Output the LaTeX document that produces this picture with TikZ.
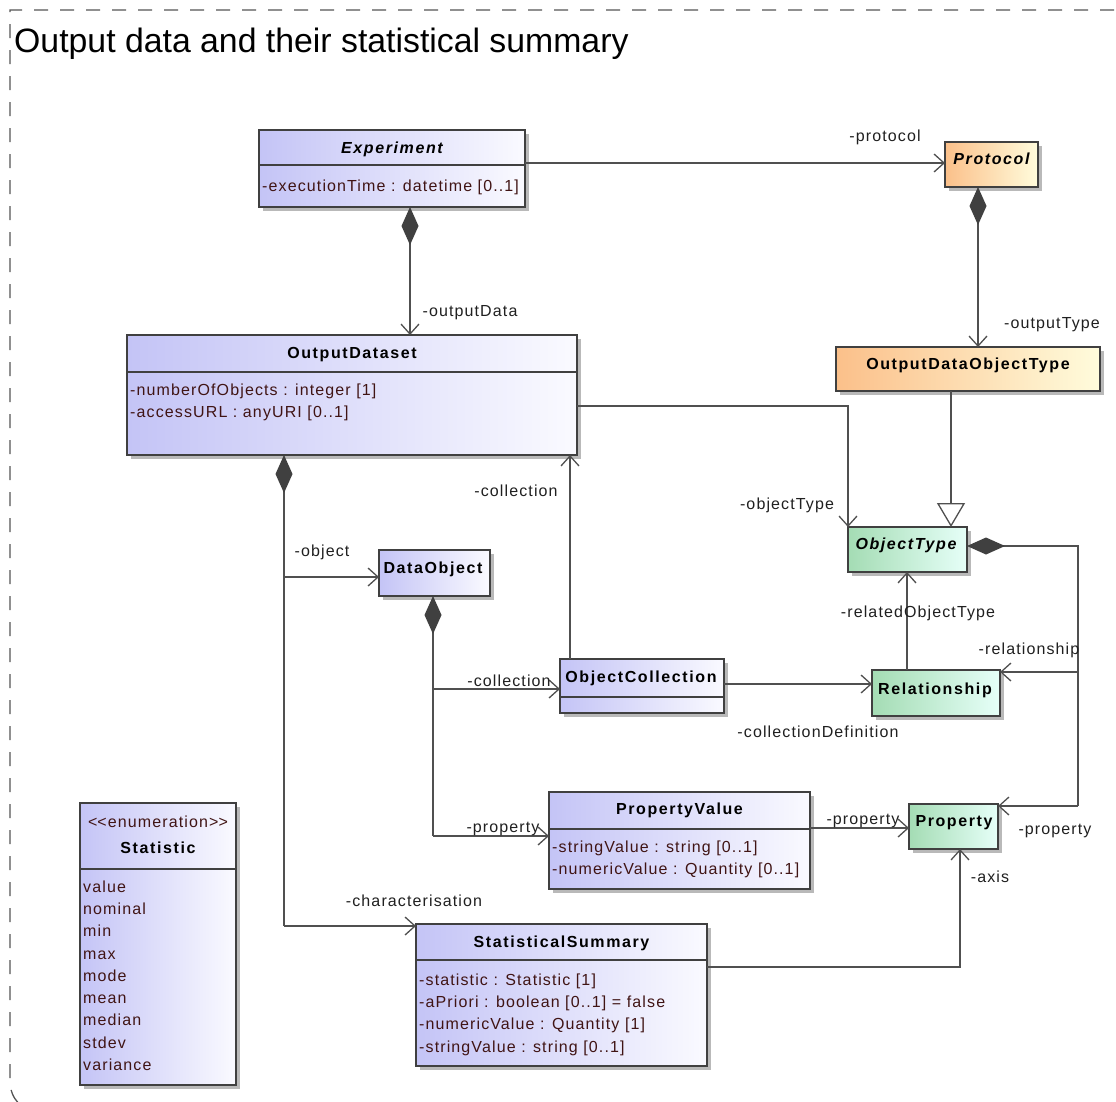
\documentclass[tikz,border=0pt]{standalone}
\usepackage{fontspec}
\setmainfont{Liberation Sans}
\newfontfamily\attrfamily[LetterSpace=7]{Liberation Sans}
\newfontfamily\clsfamily[LetterSpace=10]{Liberation Sans}
\newfontfamily\titlefamily{Liberation Sans}
\usetikzlibrary{arrows.meta,shadows}
\definecolor{bL}{HTML}{C4C4F6}
\definecolor{bR}{HTML}{FAFAFF}
\definecolor{oL}{HTML}{FBC08A}
\definecolor{oR}{HTML}{FFFCDC}
\definecolor{gL}{HTML}{A4DCB4}
\definecolor{gR}{HTML}{E6FFF8}
\definecolor{boxline}{HTML}{404040}
\definecolor{conn}{HTML}{505050}
\definecolor{diamc}{HTML}{404040}
\definecolor{attrc}{HTML}{401414}
\definecolor{lblc}{HTML}{202020}
\definecolor{shadowc}{HTML}{A8A8A8}
\definecolor{framec}{HTML}{555555}
\newcommand\myattrfont{\attrfamily\fontsize{16}{19}\selectfont}
\newcommand\myclsfont{\clsfamily\bfseries\fontsize{16}{19}\selectfont}
\begin{document}
\begin{tikzpicture}[x=1pt,y=-1pt,
  box/.style={draw=boxline, line width=1.2pt, inner sep=0pt, outer sep=0pt,
    drop shadow={shadow xshift=4pt, shadow yshift=-4pt, fill=shadowc, opacity=0.8}},
  bluebox/.style={box, left color=bL, right color=bR},
  orangebox/.style={box, left color=oL, right color=oR},
  greenbox/.style={box, left color=gL, right color=gR},
  divline/.style={draw=boxline, line width=1.2pt},
  cname/.style={font=\myclsfont, text=black, inner sep=0pt, anchor=base},
  attr/.style={font=\myattrfont, text=attrc, inner sep=0pt, anchor=base west},
  lbl/.style={font=\myattrfont, text=lblc, inner sep=0pt, anchor=base},
  assoc/.style={draw=conn, line width=1.3pt, -{Straight Barb[length=10pt,width=18pt]}},
  plainline/.style={draw=conn, line width=1.3pt},
  compnoend/.style={draw=conn, line width=1.3pt,
    {Diamond[length=38pt,width=17pt,fill=diamc,color=diamc]}-},
  comp/.style={draw=conn, line width=1.3pt,
    {Diamond[length=38pt,width=17pt,fill=diamc,color=diamc]}-{Straight Barb[length=10pt,width=18pt]}},
  gen/.style={draw=conn, line width=1.3pt, -{Triangle[length=24pt,width=28pt,fill=white]}},
  frame/.style={draw=framec, line width=1.3pt, dash pattern=on 14pt off 12pt}
]
\useasboundingbox (0,0) rectangle (1116,1101);
\fill[white] (0,0) rectangle (1116,1101);
\begin{scope}
  \clip (0,0) rectangle (1116,1101);
  \draw[frame] (1140,10) -- (10,10) -- (10,1080) .. controls (10,1095) and (16,1103) .. (28,1110);
\end{scope}
\node[font=\titlefamily\fontsize{33.8}{40}\selectfont, inner sep=0pt, anchor=base west] (title) at (14,52) {Output data and their statistical summary};

% ---- boxes ----
\node[bluebox, minimum width=266pt, minimum height=77pt] (exp) at (392,168.5) {};
\draw[divline] (exp.west |- 0,165) -- (exp.east |- 0,165);
\node[cname] (expn) at (392,153) {\itshape Experiment};
\node[attr] (expa) at (262,191) {-executionTime : datetime [0..1]};

\node[orangebox, minimum width=93pt, minimum height=45pt] (prot) at (991.5,164.5) {};
\node[cname] (protn) at (991.5,164) {\itshape Protocol};

\node[bluebox, minimum width=450pt, minimum height=120pt] (ods) at (352,395) {};
\draw[divline] (ods.west |- 0,372) -- (ods.east |- 0,372);
\node[cname] (odsn) at (352,358) {OutputDataset};
\node[attr] (odsa1) at (130,395) {-numberOfObjects : integer [1]};
\node[attr] (odsa2) at (130,417) {-accessURL : anyURI [0..1]};

\node[orangebox, minimum width=264pt, minimum height=44pt] (odot) at (968,369) {};
\node[cname] (odotn) at (968,369) {OutputDataObjectType};

\node[greenbox, minimum width=119pt, minimum height=45pt] (ot) at (907.5,549.5) {};
\node[cname] (otn) at (906,549) {\itshape ObjectType};

\node[bluebox, minimum width=111pt, minimum height=46pt] (dobj) at (434.5,573) {};
\node[cname] (dobjn) at (433,573) {DataObject};

\node[bluebox, minimum width=164pt, minimum height=54pt] (oc) at (642,686) {};
\draw[divline] (oc.west |- 0,697) -- (oc.east |- 0,697);
\node[cname] (ocn) at (641,682) {ObjectCollection};

\node[greenbox, minimum width=128pt, minimum height=46pt] (rel) at (936,693) {};
\node[cname] (reln) at (935,694) {Relationship};

\node[bluebox, minimum width=261pt, minimum height=97pt] (pv) at (679.5,840.5) {};
\draw[divline] (pv.west |- 0,829) -- (pv.east |- 0,829);
\node[cname] (pvn) at (679.5,814) {PropertyValue};
\node[attr] (pva1) at (552,852) {-stringValue : string [0..1]};
\node[attr] (pva2) at (552,874) {-numericValue : Quantity [0..1]};

\node[greenbox, minimum width=89pt, minimum height=45pt] (prop) at (953.5,826.5) {};
\node[cname] (propn) at (954,826) {Property};

\node[bluebox, minimum width=291pt, minimum height=142pt] (ss) at (561.5,995) {};
\draw[divline] (ss.west |- 0,960) -- (ss.east |- 0,960);
\node[cname] (ssn) at (561.5,947) {StatisticalSummary};
\node[attr] (ssa1) at (419,985) {-statistic : Statistic [1]};
\node[attr] (ssa2) at (419,1007) {-aPriori : boolean [0..1] = false};
\node[attr] (ssa3) at (419,1029) {-numericValue : Quantity [1]};
\node[attr] (ssa4) at (419,1052) {-stringValue : string [0..1]};

\node[bluebox, minimum width=156pt, minimum height=282pt] (stat) at (158,944) {};
\draw[divline] (stat.west |- 0,869) -- (stat.east |- 0,869);
\node[lbl, text=attrc] (statst) at (158,827) {<\kern0pt<enumeration>\kern0pt>};
\node[cname] (statn) at (158,853) {Statistic};
\node[attr] (s1) at (83,892) {value};
\node[attr] (s2) at (83,914) {nominal};
\node[attr] (s3) at (83,936) {min};
\node[attr] (s4) at (83,959) {max};
\node[attr] (s5) at (83,981) {mode};
\node[attr] (s6) at (83,1003) {mean};
\node[attr] (s7) at (83,1025) {median};
\node[attr] (s8) at (83,1048) {stdev};
\node[attr] (s9) at (83,1070) {variance};

% ---- connectors ----
\draw[assoc] (exp.east |- 0,163) -- (prot.west |- 0,163);
\node[lbl] (l1) at (885,141) {-protocol};

\draw[comp] (410,0 |- exp.south) -- (410,0 |- ods.north);
\node[lbl] (l2) at (470,316) {-outputData};

\draw[comp] (978,0 |- prot.south) -- (978,0 |- odot.north);
\node[lbl] (l3) at (1052,328) {-outputType};

\draw[gen] (951,0 |- odot.south) -- (951,0 |- ot.north);

\draw[assoc] (ods.east |- 0,406) -| (848,0 |- ot.north);
\node[lbl] (l4) at (787,509) {-objectType};

\draw[assoc] (570,0 |- oc.north) -- (570,0 |- ods.south);
\node[lbl] (l5) at (516,496) {-collection};

\coordinate (j1) at (284,577);
\coordinate (j2) at (284,926);
\draw[compnoend] (284,0 |- ods.south) -- (j2);
\draw[assoc] (j2) -- (ss.west |- j2);
\draw[assoc] (j1) -- (dobj.west |- j1);
\node[lbl] (l6) at (322,556) {-object};
\node[lbl] (l7) at (414,906) {-characterisation};

\coordinate (j3) at (433,689);
\coordinate (j4) at (433,836);
\draw[compnoend] (433,0 |- dobj.south) -- (j4);
\draw[assoc] (j4) -- (pv.west |- j4);
\draw[assoc] (j3) -- (oc.west |- j3);
\node[lbl] (l8) at (509,686) {-collection};
\node[lbl] (l9) at (503,832) {-property};

\draw[assoc] (oc.east |- 0,684) -- (rel.west |- 0,684);
\node[lbl] (l10) at (818,737) {-collectionDefinition};

\draw[assoc] (907,0 |- rel.north) -- (907,0 |- ot.south);
\node[lbl] (l11) at (918,617) {-relatedObjectType};

\coordinate (j5) at (1078,546);
\coordinate (j6) at (1078,672);
\coordinate (j7) at (1078,806);
\draw[compnoend] (ot.east |- j5) -- (j5) -- (j7);
\draw[assoc] (j7) -- (prop.east |- j7);
\draw[assoc] (j6) -- (rel.east |- j6);
\node[lbl] (l12) at (1029,654) {-relationship};
\node[lbl] (l13) at (1055,834) {-property};

\draw[assoc] (pv.east |- 0,828) -- (prop.west |- 0,828);
\node[lbl] (l14) at (863,824) {-property};

\draw[assoc] (ss.east |- 0,967) -| (960,0 |- prop.south);
\node[lbl] (l15) at (990,882) {-axis};
\end{tikzpicture}
\end{document}
